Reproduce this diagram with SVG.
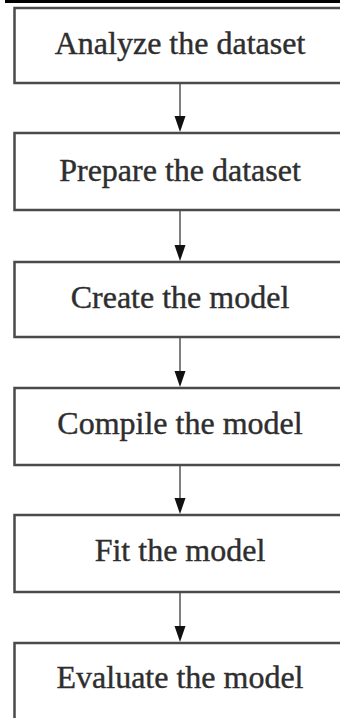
<svg xmlns="http://www.w3.org/2000/svg" width="340" height="718" viewBox="0 0 340 718">
<defs>
<style>
.box{fill:#fff;stroke:#4a4a4a;stroke-width:2.5}
.lbl{font-family:"Liberation Serif","Times New Roman",serif;font-size:32px;fill:#2e2e2e;stroke:#2e2e2e;stroke-width:0.4;text-anchor:middle}
.edge{stroke:#555;stroke-width:1.5;fill:none}
.head{fill:#111}
</style>
</defs>
<rect x="0" y="0" width="340" height="718" fill="#fff"/>
<rect x="5" y="0" width="335" height="3" fill="#000"/>
<g id="connectors">
<line class="edge" x1="180" y1="83" x2="180" y2="120"/>
<polygon class="head" points="174.5,116 185.5,116 180,132"/>
<line class="edge" x1="180" y1="210" x2="180" y2="249"/>
<polygon class="head" points="174.5,245 185.5,245 180,261"/>
<line class="edge" x1="180" y1="337" x2="180" y2="375"/>
<polygon class="head" points="174.5,371 185.5,371 180,387"/>
<line class="edge" x1="180" y1="465" x2="180" y2="502"/>
<polygon class="head" points="174.5,498 185.5,498 180,514"/>
<line class="edge" x1="180" y1="592" x2="180" y2="630"/>
<polygon class="head" points="174.5,626 185.5,626 180,642"/>
</g>
<g id="n1"><rect class="box" x="14.5" y="8" width="340" height="75"/><text class="lbl" x="180" y="54">Analyze the dataset</text></g>
<g id="n2"><rect class="box" x="14.5" y="133" width="340" height="77"/><text class="lbl" x="180" y="181">Prepare the dataset</text></g>
<g id="n3"><rect class="box" x="14.5" y="262" width="340" height="75"/><text class="lbl" x="180" y="308">Create the model</text></g>
<g id="n4"><rect class="box" x="14.5" y="388" width="340" height="77"/><text class="lbl" x="180" y="434">Compile the model</text></g>
<g id="n5"><rect class="box" x="14.5" y="515" width="340" height="77"/><text class="lbl" x="180" y="561">Fit the model</text></g>
<g id="n6"><rect class="box" x="14.5" y="643" width="340" height="90"/><text class="lbl" x="180" y="688">Evaluate the model</text></g>
</svg>
